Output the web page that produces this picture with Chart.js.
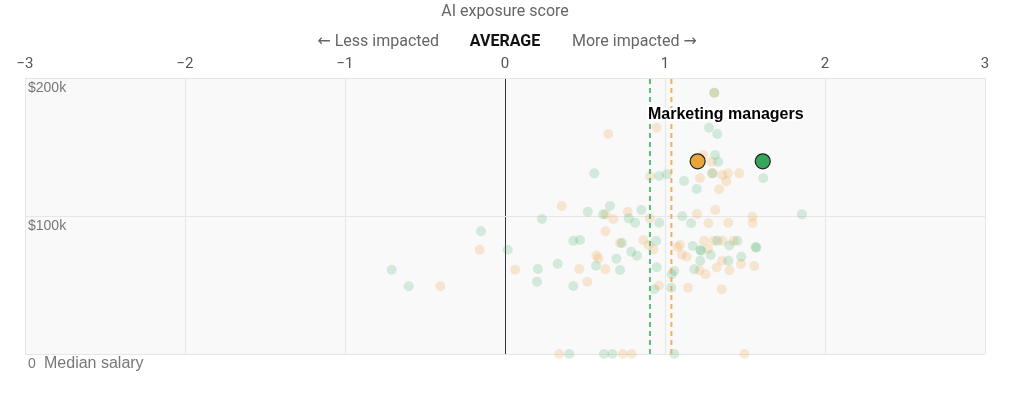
<!DOCTYPE html>
<html>
<head>
<meta charset="utf-8">
<script src="https://cdn.jsdelivr.net/npm/chart.js@4.4.1/dist/chart.umd.min.js"></script>
<style>
  body { margin: 0; background: #fff; }
  #wrap { width: 1016px; height: 395px; }
</style>
</head>
<body>
<div id="wrap"><canvas id="exposureChart"></canvas></div>
<script>
// AI exposure score (x) vs median salary in $k (y)
const greenX = [0.558, 0.963, 1.011, 0.656, 0.517, 0.614, 0.773, 0.813, 0.852, 0.964, 0.231, -0.15, 0.017,
  -0.708, -0.602, 0.206, 0.2, 0.329, 0.427, 0.469, 0.731, 0.944, 0.696, 0.789, 0.825, 0.569, 0.719, 0.427,
  0.948, 0.933, 1.039, 1.042, 1.058, 1.108, 0.402, 0.619, 0.671, 1.058,
  1.308, 1.275, 1.327, 1.313, 1.333, 1.296, 1.119, 1.614, 1.198, 1.163, 1.856, 1.173, 1.22, 1.226, 1.286,
  1.327, 1.402, 1.452, 1.566, 1.571, 1.477, 1.396, 1.22, 1.183];
const greenY = [130.9, 129.0, 130.2, 107.2, 103.1, 101.2, 98.3, 95.1, 104.3, 95.1, 97.8, 88.9, 75.6,
  61.1, 49.1, 61.6, 52.4, 65.4, 82.1, 82.6, 80.4, 81.9, 69.1, 74.1, 71.2, 64.0, 60.9, 49.3,
  62.8, 46.9, 48.0, 57.8, 60.1, 99.8, 0, 0, 0, 0,
  189.3, 164.0, 159.4, 144.2, 139.3, 130.9, 125.4, 127.3, 119.6, 94.7, 101.2, 78.3, 75.4, 74.8, 71.7,
  82.1, 78.6, 82.1, 77.6, 77.0, 70.5, 67.6, 67.6, 61.4];

const orangeX = [0.646, 0.947, 0.906, 0.354, 0.629, 0.677, 0.767, 0.906, -0.158, -0.404, 0.063, 0.628,
  0.719, 0.864, 0.897, 0.927, 0.571, 0.583, 0.464, 0.628, 0.514, 0.963, 1.078, 1.094, 1.105, 1.136,
  0.339, 0.736, 0.792, 1.496,
  1.308, 1.239, 1.292, 1.296, 1.358, 1.394, 1.464, 1.219, 1.383, 1.338, 1.314, 1.2, 1.272, 1.396, 1.546,
  1.548, 1.244, 1.269, 1.304, 1.359, 1.429, 1.357, 1.323, 1.216, 1.254, 1.403, 1.475, 1.558, 1.144, 1.355];
const orangeY = [159.4, 164.0, 128.8, 107.2, 101.2, 97.8, 103.1, 98.3, 75.6, 49.1, 61.1, 89.0,
  80.4, 82.6, 79.0, 75.7, 71.4, 69.3, 61.6, 61.4, 52.3, 49.6, 77.5, 78.9, 72.1, 70.5,
  0, 0, 0, 0,
  189.3, 144.2, 139.3, 130.9, 129.7, 130.9, 130.9, 127.3, 125.1, 119.4, 104.3, 101.4, 94.7, 95.1, 99.5,
  94.9, 82.1, 76.1, 82.1, 82.1, 82.1, 67.6, 62.7, 60.7, 57.8, 60.7, 65.2, 63.8, 48.0, 47.0];

// Marketing managers
const highlightName = 'Marketing managers';
const highlightOrange = [1.204, 139.6];
const highlightGreen = [1.611, 139.6];
const highlightLabelX = 1.38;

// Averages (dashed lines)
const greenAvg = 0.906;
const orangeAvg = 1.04;

const xTicks = [-3, -2, -1, 0, 1, 2, 3];
const yTicks = [0, 100, 200];

const narrow = 'Roboto';

const toPoints = (xs, ys) => xs.map((x, i) => ({ x: x, y: ys[i] }));
const vLine = v => [{ x: v, y: yTicks[0] }, { x: v, y: yTicks[yTicks.length - 1] }];

const headerPlugin = {
  id: 'header',
  beforeDraw(chart) {
    const { ctx, chartArea } = chart;
    ctx.save();
    ctx.fillStyle = '#f9f9f9';
    ctx.fillRect(chartArea.left, chartArea.top, chartArea.right - chartArea.left, chartArea.bottom - chartArea.top);
    ctx.restore();
  },
  afterDraw(chart) {
    const { ctx } = chart;
    const xs = chart.scales.x;
    const ys = chart.scales.y;
    const x0 = xs.getPixelForValue(0);
    ctx.save();
    ctx.textBaseline = 'middle';
    ctx.fillStyle = '#666';
    ctx.font = '16px ' + narrow;
    ctx.textAlign = 'center';
    ctx.fillText('AI exposure score', x0, 12);

    // arrows drawn in DejaVu for a longer glyph
    ctx.textAlign = 'right';
    ctx.fillText('Less impacted', x0 - 66, 42);
    const lessW = ctx.measureText('Less impacted ').width;
    ctx.textAlign = 'left';
    ctx.fillText('More impacted', x0 + 67, 42);
    const moreW = ctx.measureText('More impacted ').width;
    ctx.font = '16px "DejaVu Sans"';
    ctx.textAlign = 'right';
    ctx.fillText('\u2190', x0 - 66 - lessW, 42);
    ctx.textAlign = 'left';
    ctx.fillText('\u2192', x0 + 67 + moreW, 42);

    ctx.textAlign = 'center';
    ctx.fillStyle = '#111';
    ctx.font = 'bold 16px ' + narrow;
    ctx.fillText('AVERAGE', x0, 42);

    ctx.fillStyle = '#777';
    ctx.font = '16px "Liberation Sans"';
    ctx.textAlign = 'left';
    ctx.fillText('Median salary', 44, ys.getPixelForValue(0) + 10);

    // label for highlighted occupation
    ctx.font = 'bold 16px "Liberation Sans"';
    ctx.textAlign = 'center';
    const lx = xs.getPixelForValue(highlightLabelX);
    const ly = ys.getPixelForValue(highlightOrange[1]) - 47;
    ctx.lineWidth = 4;
    ctx.lineJoin = 'round';
    ctx.strokeStyle = '#fff';
    ctx.strokeText(highlightName, lx, ly);
    ctx.fillStyle = '#000';
    ctx.fillText(highlightName, lx, ly);
    ctx.restore();
  }
};

const ctx = document.getElementById('exposureChart').getContext('2d');
new Chart(ctx, {
  type: 'scatter',
  data: {
    datasets: [
      {
        data: [{ x: highlightOrange[0], y: highlightOrange[1] }],
        backgroundColor: '#e8a53a',
        borderColor: '#222',
        borderWidth: 1.2,
        pointRadius: 7.5,
        order: 0
      },
      {
        data: [{ x: highlightGreen[0], y: highlightGreen[1] }],
        backgroundColor: '#35a65c',
        borderColor: '#222',
        borderWidth: 1.2,
        pointRadius: 7.5,
        order: 0
      },
      {
        type: 'line',
        data: vLine(greenAvg),
        borderColor: '#5dbd7d',
        borderWidth: 2,
        borderDash: [5, 4],
        pointRadius: 0,
        order: 1
      },
      {
        type: 'line',
        data: vLine(orangeAvg),
        borderColor: '#ecb066',
        borderWidth: 2,
        borderDash: [5, 4],
        pointRadius: 0,
        order: 1
      },
      {
        data: toPoints(greenX, greenY),
        backgroundColor: 'rgba(60, 172, 100, 0.2)',
        borderWidth: 0,
        pointRadius: 5,
        order: 2
      },
      {
        data: toPoints(orangeX, orangeY),
        backgroundColor: 'rgba(238, 165, 70, 0.22)',
        borderWidth: 0,
        pointRadius: 5,
        order: 3
      }
    ]
  },
  options: {
    responsive: true,
    maintainAspectRatio: false,
    animation: false,
    events: [],
    clip: false,
    layout: {
      padding: { left: 25, right: 31, top: 0, bottom: 41 }
    },
    plugins: {
      legend: { display: false },
      tooltip: { enabled: false }
    },
    scales: {
      x: {
        type: 'linear',
        position: 'top',
        min: xTicks[0],
        max: xTicks[xTicks.length - 1],
        afterFit: scale => { scale.height = 78; },
        afterBuildTicks: scale => { scale.ticks = xTicks.map(v => ({ value: v })); },
        border: { display: false },
        grid: {
          drawTicks: false,
          color: c => (c.tick && c.tick.value === 0 ? '#333' : '#e6e6e6'),
          lineWidth: 1
        },
        ticks: {
          padding: 5,
          color: '#555',
          font: { family: narrow, size: 15 },
          callback: v => (v < 0 ? '\u2212' + Math.abs(v) : String(v))
        }
      },
      y: {
        type: 'linear',
        min: yTicks[0],
        max: yTicks[yTicks.length - 1],
        afterFit: scale => { scale.width = 0; },
        afterBuildTicks: scale => { scale.ticks = yTicks.map(v => ({ value: v })); },
        border: { display: false },
        grid: { drawTicks: false, color: '#e6e6e6' },
        ticks: {
          mirror: true,
          padding: 3,
          labelOffset: 10,
          color: '#777',
          font: { family: 'Liberation Sans', size: 14 },
          callback: v => (v === 0 ? '0' : '$' + v + 'k')
        }
      }
    }
  },
  plugins: [headerPlugin]
});
</script>
</body>
</html>
